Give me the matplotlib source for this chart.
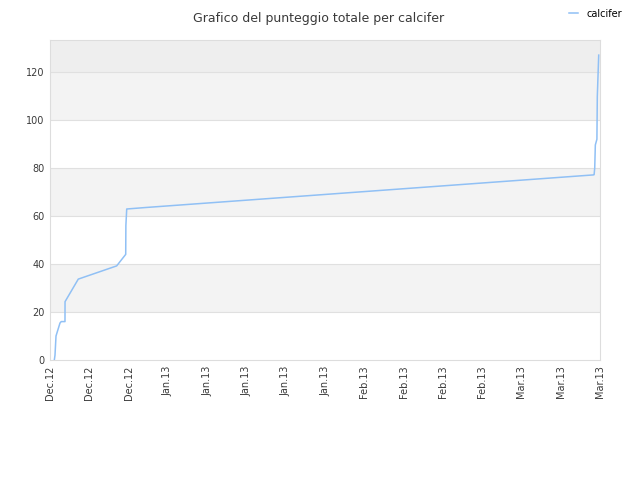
import matplotlib
matplotlib.use('Agg')
import matplotlib.pyplot as plt

# giorni dal 10 dic 2012 e punteggio totale
days = [0.77, 0.89, 1.07, 1.78, 2.0, 2.67, 2.68, 5.04, 11.88, 13.49, 13.52, 13.67,
        16.93, 96.81, 96.95, 97.06, 97.17, 97.42, 97.45, 97.52, 97.77]
score = [0, 2, 10, 15.4, 16, 16, 24.3, 33.7, 39.2, 44, 56, 62.9,
         63.5, 77.1, 77.2, 80, 89.6, 91.7, 92, 109.7, 127]

tick_pos = list(range(0, 99, 7))
tick_labels = ['Dec.12', 'Dec.12', 'Dec.12', 'Jan.13', 'Jan.13', 'Jan.13', 'Jan.13', 'Jan.13',
               'Feb.13', 'Feb.13', 'Feb.13', 'Feb.13', 'Mar.13', 'Mar.13', 'Mar.13']

fig = plt.figure(figsize=(6.4, 4.8), dpi=100)
ax = fig.add_axes([50/640, 120/480, 550/640, 320/480])

ax.set_xlim(0, 98)
ax.set_ylim(0, 133.3)

# bande di sfondo
for lo in (20, 60, 100):
    ax.axhspan(lo, lo + 20, color='#f3f3f3', zorder=0, lw=0)
ax.axhspan(120, 133.3, color='#eeeeee', zorder=0, lw=0)
for yv in range(20, 121, 20):
    ax.axhline(yv, color='#e0e0e0', lw=0.8, zorder=1)

ax.plot(days, score, color='#90c0f5', lw=1.1, label='calcifer', zorder=3)

ax.set_xticks(tick_pos)
ax.set_xticklabels(tick_labels, rotation=90)
ax.set_yticks(range(0, 121, 20))
ax.tick_params(axis='both', length=0, labelsize=7, colors='#3a3a3a', pad=4)

for s in ax.spines.values():
    s.set_color('#dddddd')

fig.text(0.497, 0.975, 'Grafico del punteggio totale per calcifer', ha='center', va='top',
         fontsize=9, color='#3a3a3a')
fig.legend(loc='upper right', bbox_to_anchor=(0.985, 1.0), frameon=False, fontsize=7,
           handlelength=1.0, handletextpad=0.8)

fig.savefig('out.png')
